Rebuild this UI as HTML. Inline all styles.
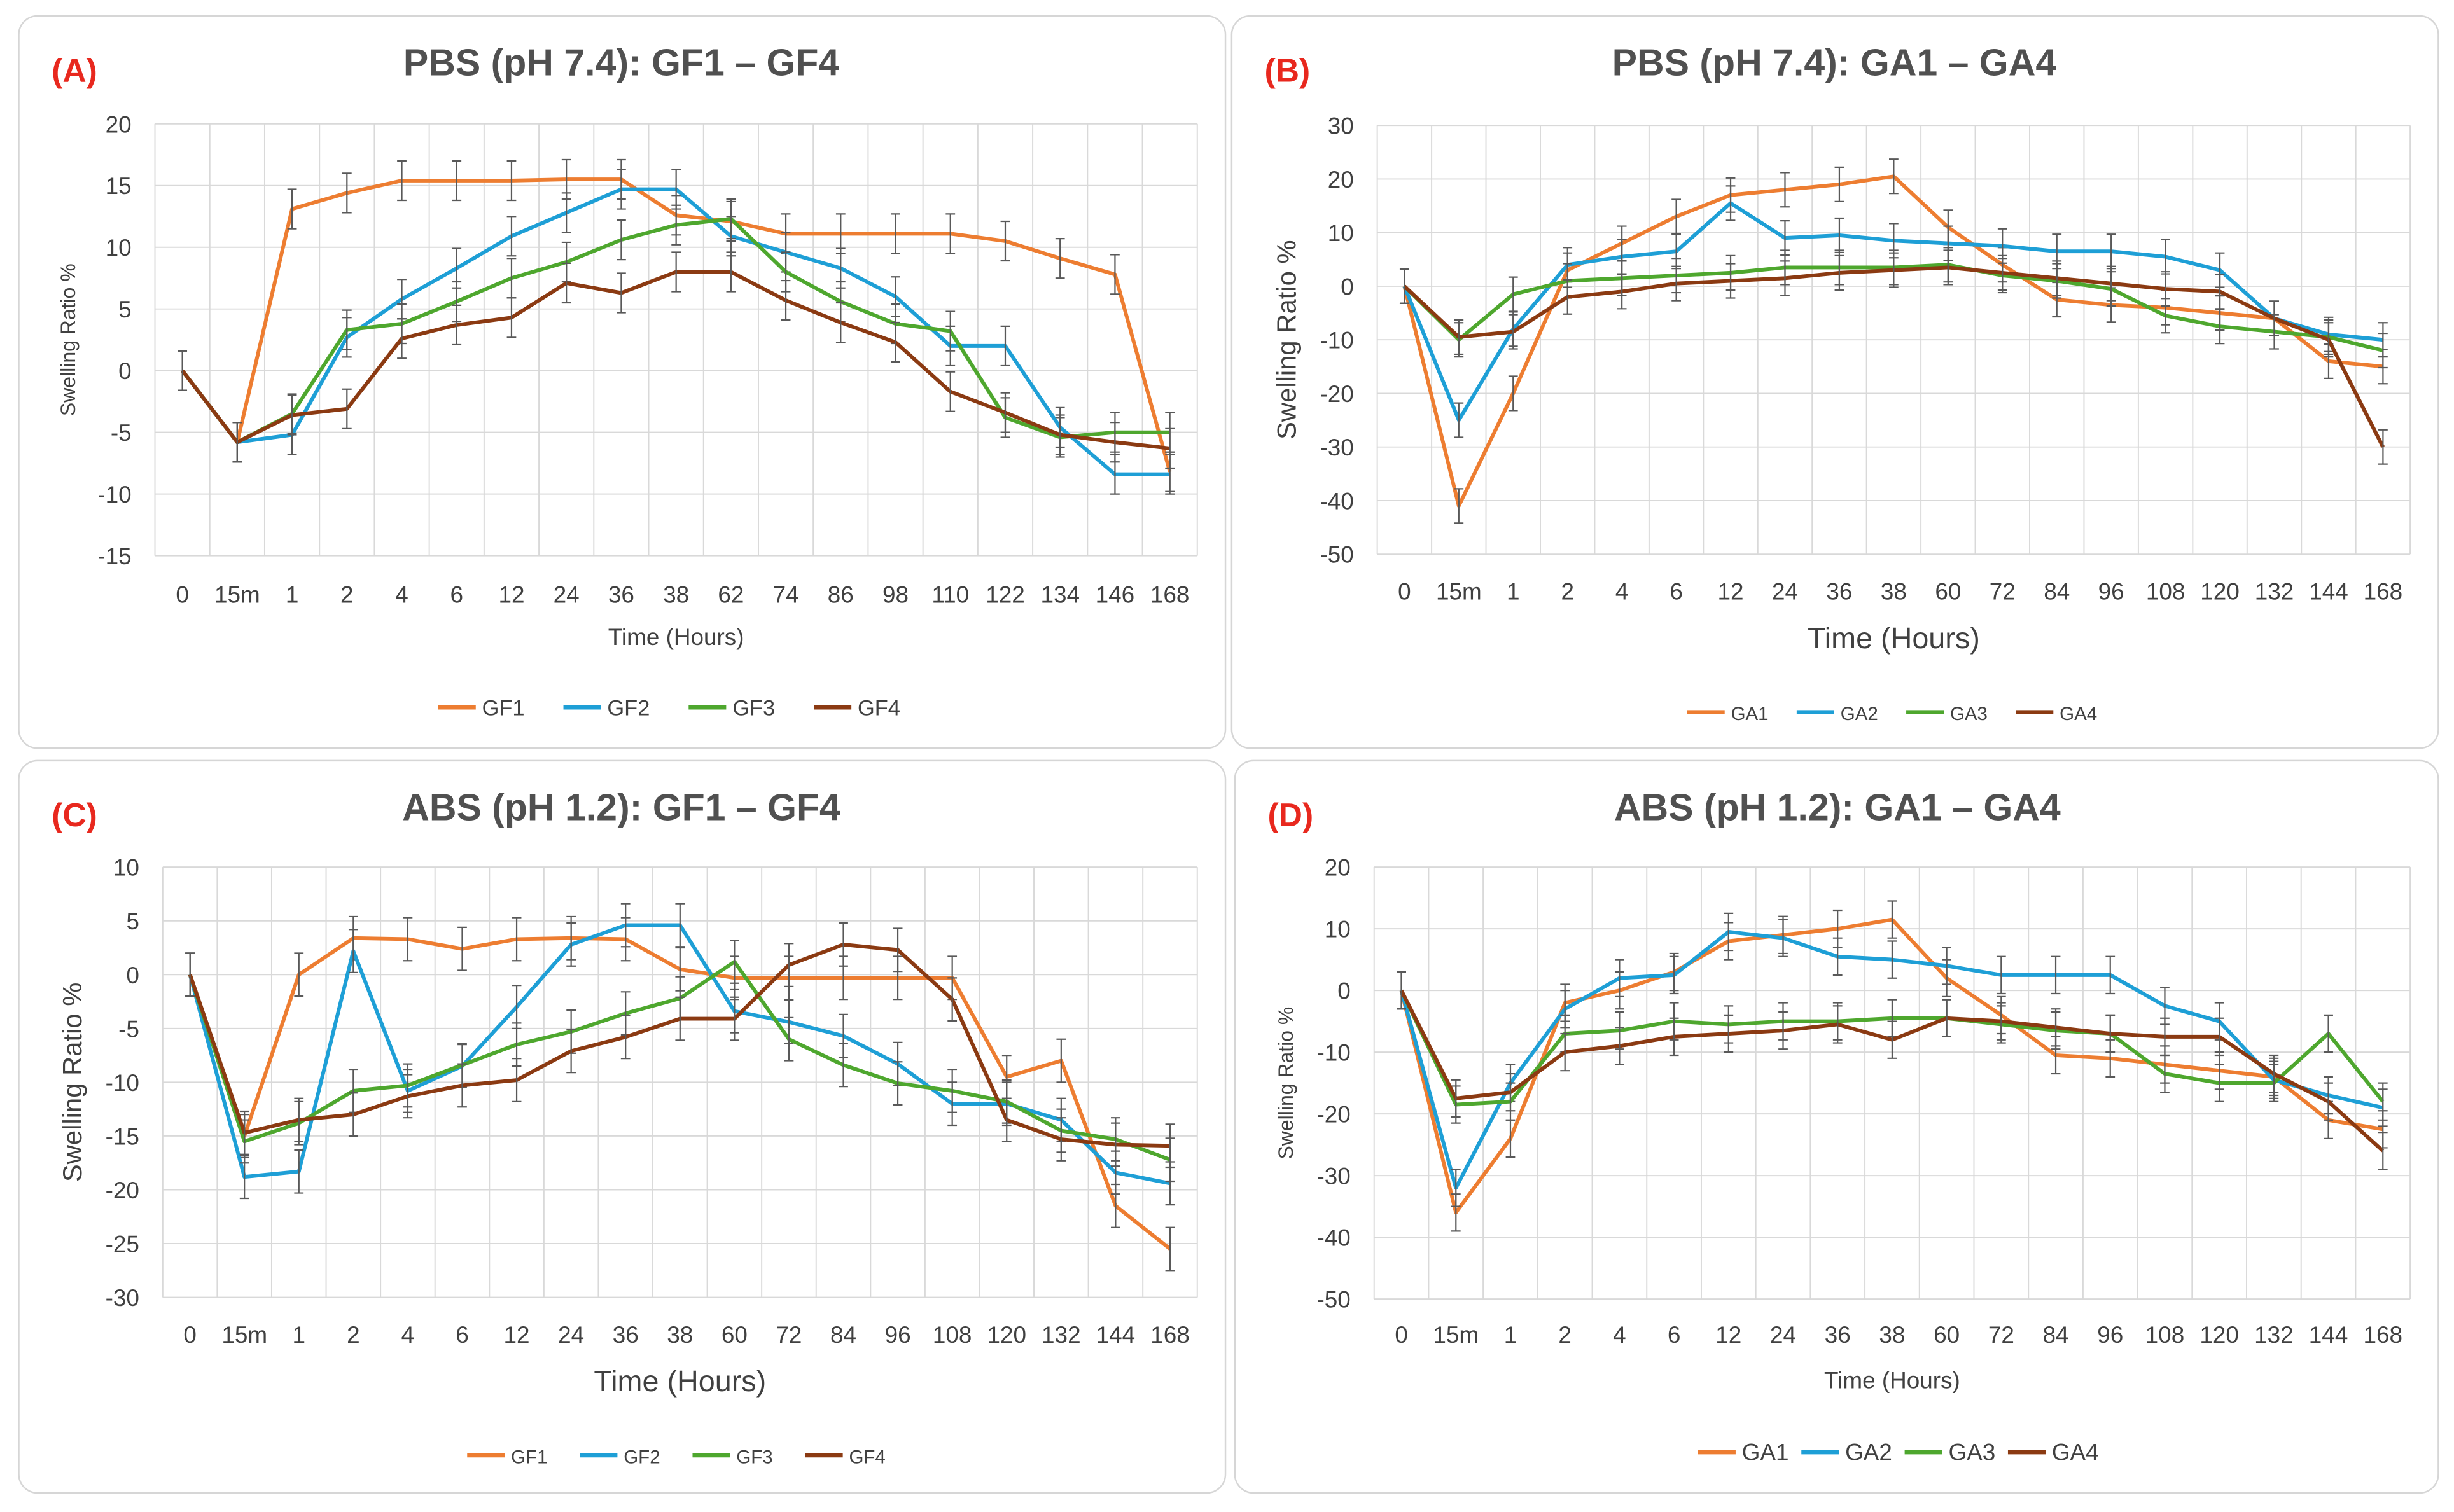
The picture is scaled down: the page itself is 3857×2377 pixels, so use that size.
<!DOCTYPE html>
<html><head><meta charset="utf-8"><style>
html,body{margin:0;padding:0;background:#fff}
svg{display:block}
text{font-family:"Liberation Sans",sans-serif}
.narrow{font-family:"Liberation Sans Narrow","Liberation Sans",sans-serif}
</style></head><body>
<svg id="fig" xmlns="http://www.w3.org/2000/svg" width="3857" height="2377" viewBox="0 0 1568 966"></svg>
<script>
// ---- data ----
const catsGF = ["0","15m","1","2","4","6","12","24","36","38","62","74","86","98","110","122","134","146","168"];
const catsGA = ["0","15m","1","2","4","6","12","24","36","38","60","72","84","96","108","120","132","144","168"];
const catsC = ["0","15m","1","2","4","6","12","24","36","38","60","72","84","96","108","120","132","144","168"];
const ticksA = [20,15,10,5,0,-5,-10,-15];
const ticksB = [30,20,10,0,-10,-20,-30,-40,-50];
const ticksC = [10,5,0,-5,-10,-15,-20,-25,-30];
const ticksD = [20,10,0,-10,-20,-30,-40,-50];
const A_GF1 = [0,-5.8,13.1,14.4,15.4,15.4,15.4,15.5,15.5,12.6,12.1,11.1,11.1,11.1,11.1,10.5,9.1,7.8,-8.2];
const A_GF2 = [0,-5.8,-5.2,2.7,5.8,8.3,10.9,12.8,14.7,14.7,10.9,9.6,8.3,6.0,2.0,2.0,-4.6,-8.4,-8.4];
const A_GF3 = [0,-5.8,-3.5,3.3,3.8,5.6,7.5,8.8,10.6,11.8,12.3,8.0,5.6,3.8,3.2,-3.8,-5.4,-5.0,-5.0];
const A_GF4 = [0,-5.8,-3.6,-3.1,2.6,3.7,4.3,7.1,6.3,8.0,8.0,5.7,3.9,2.3,-1.7,-3.4,-5.2,-5.8,-6.3];
const B_GA1 = [0,-41,-20,3,8,13,17,18,19,20.5,11,4,-2.5,-3.5,-4,-5,-6,-14,-15];
const B_GA2 = [0,-25,-8,4,5.5,6.5,15.5,9,9.5,8.5,8,7.5,6.5,6.5,5.5,3,-6,-9,-10];
const B_GA3 = [0,-10,-1.5,1,1.5,2,2.5,3.5,3.5,3.5,4,2,1,-0.5,-5.5,-7.5,-8.5,-9.5,-12];
const B_GA4 = [0,-9.5,-8.5,-2,-1,0.5,1,1.5,2.5,3,3.5,2.5,1.5,0.5,-0.5,-1,-6,-10,-30];
const C_GF1 = [0,-15,0,3.4,3.3,2.4,3.3,3.4,3.3,0.5,-0.3,-0.3,-0.3,-0.3,-0.3,-9.5,-8,-21.5,-25.5];
const C_GF2 = [0,-18.8,-18.3,2.2,-10.8,-8.5,-3,2.8,4.6,4.6,-3.4,-4.4,-5.7,-8.3,-12,-12,-13.5,-18.4,-19.4];
const C_GF3 = [0,-15.5,-13.8,-10.8,-10.3,-8.4,-6.5,-5.3,-3.6,-2.2,1.2,-6,-8.4,-10.1,-10.8,-11.8,-14.5,-15.3,-17.2];
const C_GF4 = [0,-14.7,-13.5,-13,-11.3,-10.3,-9.8,-7.1,-5.8,-4.1,-4.1,0.9,2.8,2.3,-2.3,-13.5,-15.3,-15.8,-15.9];
const D_GA1 = [0,-36,-24,-2,0,3,8,9,10,11.5,2,-4,-10.5,-11,-12,-13,-14,-21,-22.5];
const D_GA2 = [0,-32,-15,-3,2,2.5,9.5,8.5,5.5,5,4,2.5,2.5,2.5,-2.5,-5,-14.5,-17,-19];
const D_GA3 = [0,-18.5,-18,-7,-6.5,-5,-5.5,-5,-5,-4.5,-4.5,-5.5,-6.5,-7,-13.5,-15,-15,-7,-18];
const D_GA4 = [0,-17.5,-16.5,-10,-9,-7.5,-7,-6.5,-5.5,-8,-4.5,-5,-6,-7,-7.5,-7.5,-13.5,-18,-26];
const errA = 1.6, errB = 3.2, errC = 2.0, errD = 3.0;
const colors = ["#ED7D31","#1E9FD6","#4EA72E","#8B3A12"];

const NS = "http://www.w3.org/2000/svg";
const svg = document.getElementById("fig");
function mk(tag, attrs, parent, txt){
  const e = document.createElementNS(NS, tag);
  for (const k in attrs) e.setAttribute(k, attrs[k]);
  if (txt !== undefined) e.textContent = txt;
  (parent || svg).appendChild(e);
  return e;
}

function panel(p){
  const g = mk("g", {});
  
  
  const box = mk("rect", {x:p.bx, y:p.by, width:p.bw, height:p.bh, rx:12, fill:"#fff", stroke:"#d6d6d6", "stroke-width":1}, g);
  
  
  const lab = mk("text", {x:p.bx+21, y:p.by+42, fill:"#E8281E", "font-size":21, "font-weight":"bold"}, g, p.label);
  
  
  const t = mk("text", {x:p.tx, y:p.by+38, fill:"#505050", "font-size":24, "font-weight":"bold", "text-anchor":"middle", class:"narrow"}, g, p.title);
  
  

  const n = p.cats.length, cw = (p.x1 - p.x0) / n;
  const ymax = p.ticks[0], ymin = p.ticks[p.ticks.length-1];
  const xs = i => p.x0 + cw*(i+0.5);
  const ys = v => p.y0 + (ymax - v) / (ymax - ymin) * (p.y1 - p.y0);
  // grid
  for (let i=0;i<=n;i++){
    const l = mk("line", {x1:p.x0+cw*i, x2:p.x0+cw*i, y1:p.y0, y2:p.y1, stroke:"#d9d9d9", "stroke-width":0.8}, g);
    
    
  }
  p.ticks.forEach(v=>{
    const l = mk("line", {x1:p.x0, x2:p.x1, y1:ys(v), y2:ys(v), stroke:"#d9d9d9", "stroke-width":0.8}, g);
    
    
    const tl = mk("text", {x:p.x0-15, y:ys(v)+5.5, fill:"#404040", "font-size":p.tfs, "text-anchor":"end", class:"narrow"}, g, String(v));
    
    
  });
  p.cats.forEach((c,i)=>{
    const tl = mk("text", {x:xs(i), y:p.xly, fill:"#404040", "font-size":p.tfs, "text-anchor":"middle", class:"narrow"}, g, c);
    
    
  });
  const xt = mk("text", {x:(p.x0+p.x1)/2, y:p.xty, fill:"#404040", "font-size":p.xtfs, "text-anchor":"middle", class:"narrow"}, g, p.xtitle);
  
  
  const yt = mk("text", {x:0, y:0, fill:"#404040", "font-size":p.ytfs, "text-anchor":"middle", transform:`translate(${p.ytx},${(p.y0+p.y1)/2}) rotate(-90)`}, g, "Swelling Ratio %");
  
  
  // series
  p.series.forEach((s,si)=>{
    const sg = mk("g", {}, g);
    
    
    const pts = s.map((v,i)=>xs(i).toFixed(2)+","+ys(v).toFixed(2)).join(" ");
    const pl = mk("polyline", {points:pts, fill:"none", stroke:colors[si], "stroke-width":2.4, "stroke-linejoin":"round"}, sg);
    
    
    s.forEach((v,i)=>{
      const x = xs(i), a = ys(v+p.err), b = ys(v-p.err);
      const eb = mk("path", {d:`M${x},${a}V${b}M${x-3},${a}H${x+3}M${x-3},${b}H${x+3}`, stroke:"#595959", "stroke-width":0.9, fill:"none"}, sg);
      
      
    });
  });
  // legend
  const lw = p.legw, lx0 = (p.x0+p.x1)/2 - lw*2 + 8;
  p.names.forEach((nm,i)=>{
    const lx = lx0 + lw*i;
    const lg = mk("g", {}, g);
    
    
    mk("line", {x1:lx, x2:lx+24, y1:p.legy, y2:p.legy, stroke:colors[i], "stroke-width":2.6}, lg);
    mk("text", {x:lx+28, y:p.legy+5, fill:"#404040", "font-size":p.lfs, class:"narrow"}, lg, nm);
  });
}

panel({id:"panel-a", label:"(A)", title:"PBS (pH 7.4): GF1 \u2013 GF4", bx:12, by:10, bw:771, bh:468, tx:397,
  x0:99, x1:765, y0:79, y1:355, cats:catsGF, ticks:ticksA, tfs:15, xly:385, xtitle:"Time (Hours)", xty:412, xtfs:15,
  ytx:48, ytfs:13, series:[A_GF1,A_GF2,A_GF3,A_GF4], err:errA, names:["GF1","GF2","GF3","GF4"], legy:452, legw:80, lfs:14});
panel({id:"panel-b", label:"(B)", title:"PBS (pH 7.4): GA1 \u2013 GA4", bx:787, by:10, bw:771, bh:468, tx:1172,
  x0:880, x1:1540, y0:80, y1:354, cats:catsGA, ticks:ticksB, tfs:15, xly:383, xtitle:"Time  (Hours)", xty:414, xtfs:19,
  ytx:828, ytfs:17, series:[B_GA1,B_GA2,B_GA3,B_GA4], err:errB, names:["GA1","GA2","GA3","GA4"], legy:455, legw:70, lfs:12});
panel({id:"panel-c", label:"(C)", title:"ABS (pH 1.2): GF1 \u2013 GF4", bx:12, by:486, bw:771, bh:468, tx:397,
  x0:104, x1:765, y0:554, y1:829, cats:catsC, ticks:ticksC, tfs:15, xly:858, xtitle:"Time (Hours)", xty:889, xtfs:19,
  ytx:52, ytfs:17, series:[C_GF1,C_GF2,C_GF3,C_GF4], err:errC, names:["GF1","GF2","GF3","GF4"], legy:930, legw:72, lfs:12});
panel({id:"panel-d", label:"(D)", title:"ABS (pH 1.2): GA1 \u2013 GA4", bx:789, by:486, bw:769, bh:468, tx:1174,
  x0:878, x1:1540, y0:554, y1:830, cats:catsGA, ticks:ticksD, tfs:15, xly:858, xtitle:"Time  (Hours)", xty:887, xtfs:15,
  ytx:826, ytfs:13, series:[D_GA1,D_GA2,D_GA3,D_GA4], err:errD, names:["GA1","GA2","GA3","GA4"], legy:928, legw:66, lfs:15});
</script>
</body></html>
